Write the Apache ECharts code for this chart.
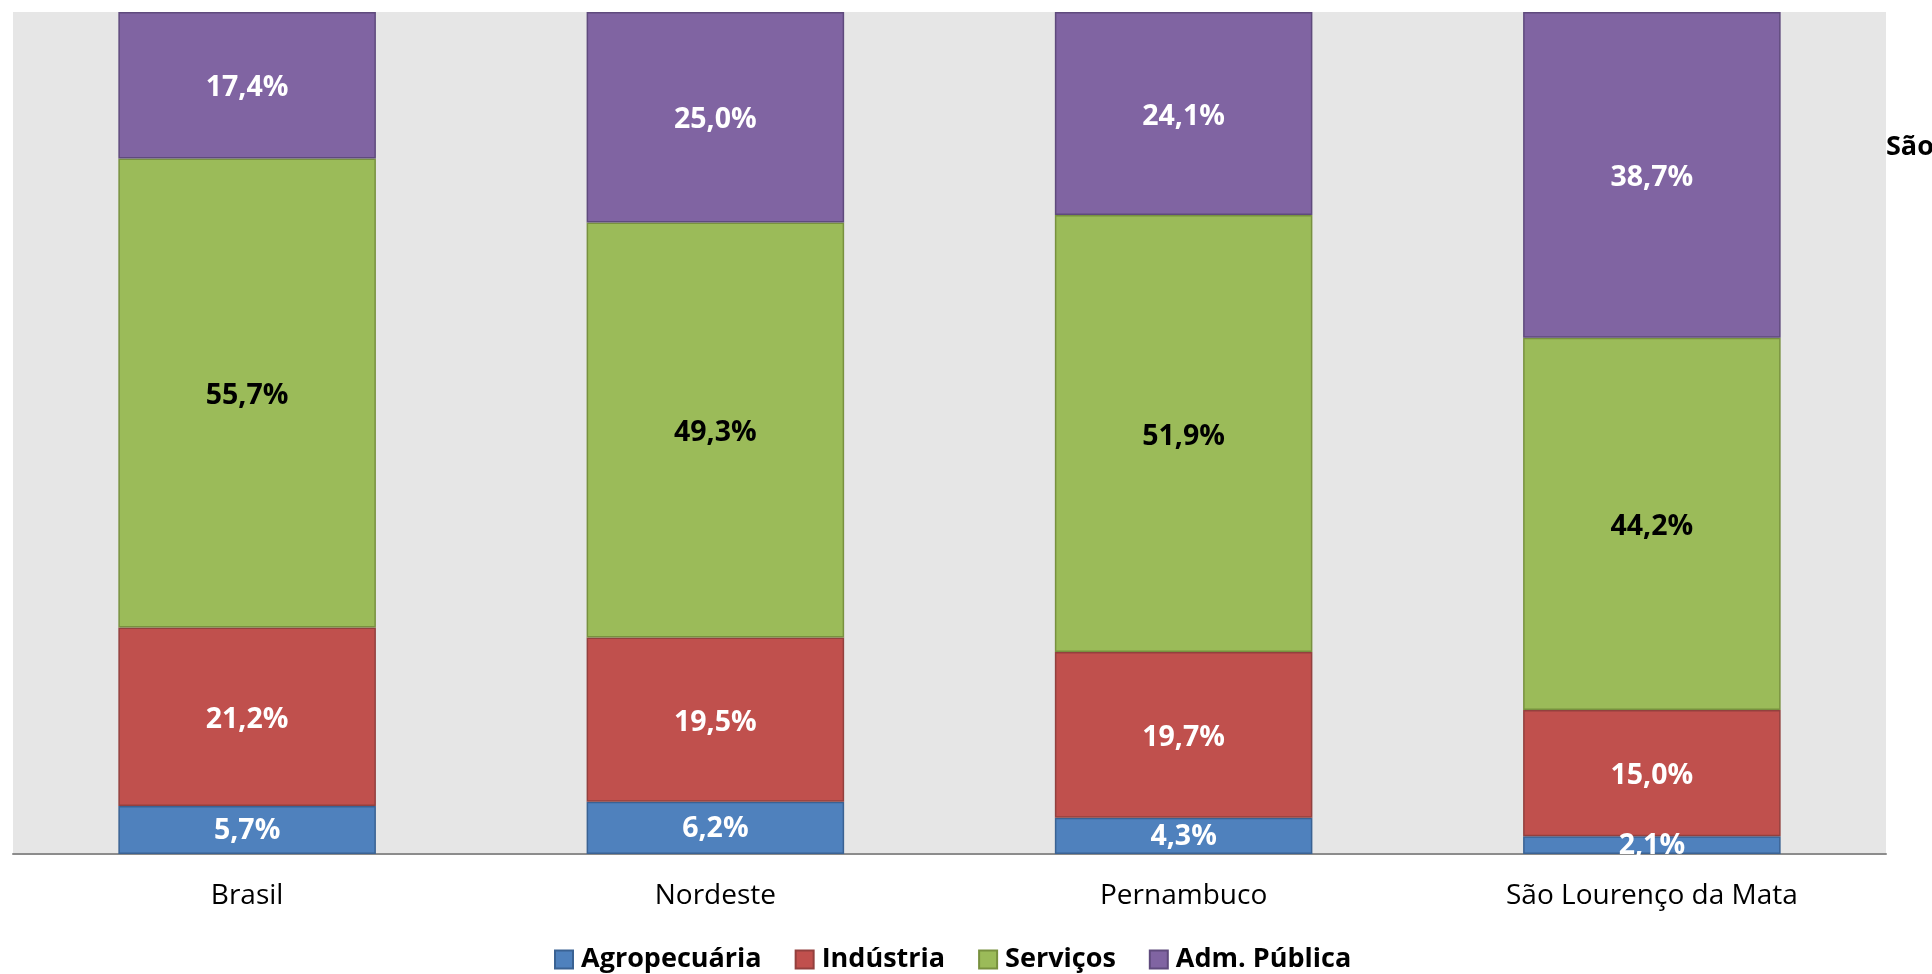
<!DOCTYPE html>
<html>
<head>
<meta charset="utf-8">
<script src="https://cdn.jsdelivr.net/npm/echarts@6/dist/echarts.min.js"></script>
<style>
html,body{margin:0;padding:0;background:#fff;}
#chart{width:1932px;height:974px;}
</style>
</head>
<body>
<div id="chart"></div>
<script>
const categories = ['Brasil', 'Nordeste', 'Pernambuco', 'São Lourenço da Mata'];
const seriesNames = ['Agropecuária', 'Indústria', 'Serviços', 'Adm. Pública'];
const agropecuaria = [5.7, 6.2, 4.3, 2.1];
const industria = [21.2, 19.5, 19.7, 15.0];
const servicos = [55.7, 49.3, 51.9, 44.2];
const admPublica = [17.4, 25.0, 24.1, 38.7];
const sideText = 'São';

const FONT = '"Open Sans", "Noto Sans", sans-serif';
const fills = ['#4F81BD', '#C0504D', '#9BBB59', '#8064A2'];
const borders = ['#3A6293', '#93403E', '#78913F', '#5F4A7D'];
const labelColors = ['#FFFFFF', '#FFFFFF', '#000000', '#FFFFFF'];
const values = [agropecuaria, industria, servicos, admPublica];

const fmt = v => v.toFixed(1).replace('.', ',') + '%';

const chart = echarts.init(document.getElementById('chart'), null, {renderer: 'canvas'});
chart.setOption({
  animation: false,
  backgroundColor: '#FFFFFF',
  grid: {
    left: 13, right: 46, top: 12, bottom: 120,
    show: true, backgroundColor: '#E6E6E6', borderWidth: 0, containLabel: false
  },
  legend: {
    top: 941,
    left: 549,
    itemWidth: 18, itemHeight: 18, itemGap: 33,
    icon: 'rect',
    textStyle: {fontFamily: FONT, fontSize: 27, fontWeight: 'bold', color: '#000', padding: [0, 0, 0, 3]},
    data: seriesNames
  },
  xAxis: {
    type: 'category',
    data: categories,
    axisLine: {show: true, lineStyle: {color: '#8C8C8C', width: 2}},
    axisTick: {show: false},
    axisLabel: {fontFamily: FONT, fontSize: 28, color: '#000', margin: 28}
  },
  yAxis: {
    type: 'value', min: 0, max: 100, interval: 20,
    show: false, splitLine: {show: false}
  },
  graphic: [{
    type: 'text', left: 1886, top: 134,
    style: {text: sideText, font: 'bold 27px ' + FONT, fill: '#000'}
  }],
  series: seriesNames.map((name, i) => ({
    name: name,
    type: 'bar',
    stack: 'total',
    barWidth: '55%',
    data: values[i],
    itemStyle: {color: fills[i], borderColor: borders[i], borderWidth: 1.5},
    label: {
      show: true, position: 'inside', offset: [0, i === 0 ? 1 : 3],
      formatter: p => fmt(p.value),
      fontFamily: FONT, fontSize: 28.5, fontWeight: 'bold', color: labelColors[i]
    }
  }))
});
</script>
</body>
</html>
